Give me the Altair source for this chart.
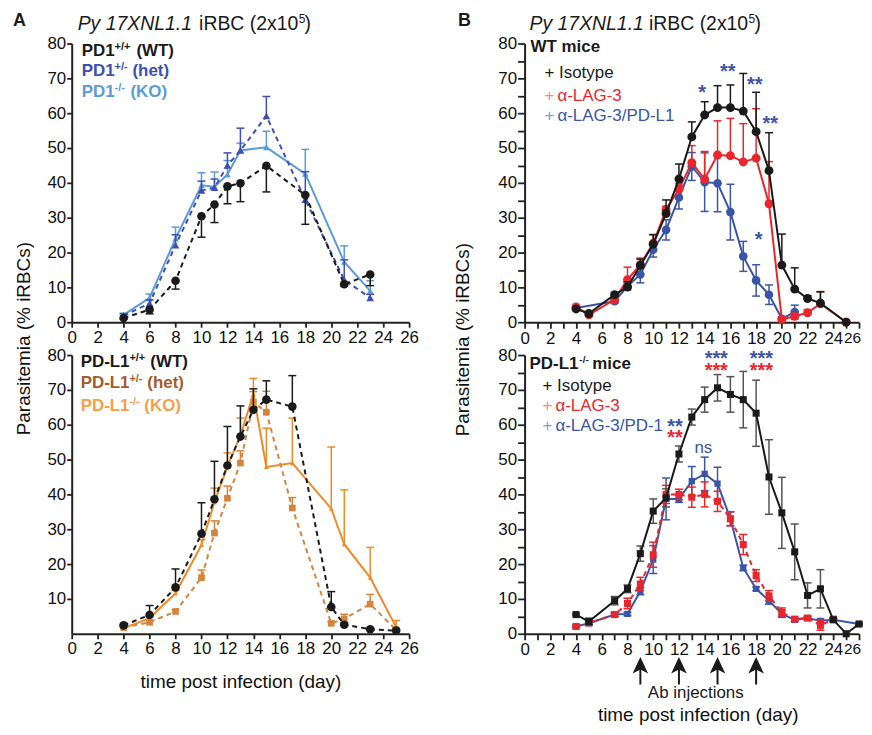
import altair as alt
import pandas as pd

FONT = "Liberation Sans"
W, H = 339, 280
WB = 336
BLACK = "#1a1a1a"
RED = "#e8262c"
BLUE = "#3a55a8"

# ---------------- Panel A top: PD1 ----------------
a1_x = [4, 6, 8, 10, 11, 12, 13, 15, 18, 21, 23]
a1_wt = [1.2, 3.6, 11.9, 30.4, 33.8, 39.0, 39.9, 44.9, 36.5, 10.9, 13.7]
a1_wt_err = [0.3, 1.2, 2.4, 6.0, 5.2, 5.0, 5.3, 7.5, 8.4, 0.5, 3.2]
a1_het = [1.9, 5.4, 22.1, 37.8, 38.6, 45.0, 49.3, 59.2, 35.2, 12.2, 7.0]
a1_het_err = [0.5, 1.0, 3.0, 2.7, 2.5, 3.6, 6.4, 5.6, 8.0, 5.7, 1.0]
a1_ko = [2.1, 7.0, 24.0, 39.3, 38.9, 42.4, 49.3, 50.2, 42.6, 17.3, 9.0]
a1_ko_err = [0.5, 1.1, 3.3, 3.6, 4.2, 4.0, 2.1, 4.6, 7.0, 4.6, 2.9]

# ---------------- Panel A bottom: PD-L1 ----------------
a2_x = [4, 6, 8, 10, 11, 12, 13, 14, 15, 17, 20, 21, 23, 25]
a2_wt = [2.4, 5.4, 13.3, 28.7, 38.6, 48.3, 56.6, 64.3, 67.2, 65.2, 7.7, 2.6, 1.3, 0.9]
a2_wt_err = [0.3, 2.7, 5.3, 8.9, 10.9, 11.2, 8.8, 6.0, 5.4, 8.9, 4.4, 0.5, 0.3, 0.3]
a2_het = [1.8, 3.3, 6.4, 16.1, 28.9, 38.9, 49.0, 66.5, 63.6, 36.1, 3.0, 4.3, 8.5, 1.1]
a2_het_err = [0.3, 0.5, 0.5, 2.2, 3.5, 3.5, 3.5, 3.0, 6.0, 3.0, 0.5, 1.3, 2.8, 0.5]
a2_ko = [1.6, 4.5, 11.6, 25.5, 37.8, 48.0, 56.9, 68.8, 47.9, 49.0, 35.9, 25.7, 16.1, 1.9]
a2_ko_err = [0.3, 0.5, 0.8, 1.5, 4.0, 3.9, 5.0, 4.5, 11.1, 12.9, 17.7, 15.6, 8.7, 1.9]

# ---------------- Panel B top: WT mice ----------------
b1_x = [4, 5, 7, 8, 9, 10, 11, 12, 13, 14, 15, 16, 17, 18, 19, 20, 21, 22, 23, 25]
b1_iso = [3.8, 2.5, 7.9, 10.1, 16.3, 22.4, 31.2, 41.1, 53.2, 59.5, 61.6, 61.6, 60.6, 54.7, 43.5, 16.4, 9.5, 6.8, 5.5, 0.0]
b1_iso_err = [0.3, 0.3, 0.6, 1.5, 1.8, 2.7, 3.9, 4.3, 4.3, 3.8, 6.3, 6.5, 10.8, 11.3, 10.9, 8.9, 6.1, 0.8, 3.2, 0.0]
b1_lag = [4.4, 2.1, 6.5, 12.2, 16.5, 22.7, 32.3, 38.2, 45.8, 41.1, 48.0, 47.8, 46.0, 47.1, 34.0, 0.8, 1.7, 2.7, 5.3, 0.0]
b1_lag_err = [0.3, 0.3, 0.5, 3.6, 1.9, 2.5, 1.0, 1.5, 4.9, 7.9, 9.8, 10.7, 11.0, 14.2, 12.1, 0.3, 0.5, 0.9, 3.5, 0.0]
b1_dual_x = [4, 7, 8, 9, 10, 11, 12, 13, 14, 15, 16, 17, 18, 19, 20, 21]
b1_dual = [4.1, 6.0, 10.3, 13.7, 20.8, 26.5, 35.8, 44.7, 40.2, 39.9, 31.6, 18.9, 12.0, 7.9, 1.0, 2.9]
b1_dual_err = [0.3, 0.5, 1.0, 2.4, 2.1, 2.9, 3.3, 4.0, 8.4, 8.2, 8.0, 4.3, 4.5, 2.8, 0.5, 2.0]
b1_star_x = [13.8, 15.8, 17.9, 19.1, 18.2]
b1_star_y = [66.1, 72.0, 68.4, 57.1, 23.9]
b1_star_t = ["*", "**", "**", "**", "*"]

# ---------------- Panel B bottom: PD-L1-/- mice ----------------
b2_iso_x = [4, 5, 7, 8, 9, 10, 11, 12, 13, 14, 15, 16, 17, 18, 19, 20, 21, 22, 23, 24, 25, 26]
b2_iso = [5.5, 3.5, 9.5, 12.9, 23.0, 35.2, 39.0, 51.6, 62.2, 67.2, 70.6, 68.7, 67.2, 63.3, 45.0, 34.7, 23.5, 11.0, 12.9, 4.0, 0.0, 2.8]
b2_iso_err = [0.3, 1.0, 1.2, 1.1, 2.2, 3.5, 2.6, 2.3, 2.3, 3.6, 3.8, 5.1, 8.1, 9.5, 10.7, 10.2, 8.0, 3.6, 5.5, 0.5, 0.0, 0.3]
b2_lag_x = [4, 5, 7, 8, 9, 10, 11, 12, 13, 14, 15, 16, 17, 18, 19, 20, 21, 22, 23, 24]
b2_lag = [2.1, 3.1, 5.5, 8.7, 14.3, 22.7, 40.0, 40.0, 39.2, 40.0, 38.0, 33.0, 25.6, 16.7, 10.9, 6.1, 4.2, 4.5, 2.4, 4.2]
b2_lag_err = [0.3, 0.5, 0.5, 1.5, 1.9, 3.6, 2.6, 1.5, 2.9, 3.6, 2.9, 2.0, 2.9, 1.7, 1.5, 1.3, 0.5, 0.5, 1.4, 0.3]
b2_dual_x = [4, 5, 7, 8, 9, 10, 11, 12, 13, 14, 15, 16, 17, 18, 19, 20, 21, 22, 23, 24, 26]
b2_dual = [2.1, 3.0, 5.5, 5.7, 12.2, 21.3, 38.7, 38.7, 43.8, 45.9, 43.1, 33.0, 18.9, 12.9, 9.5, 5.7, 4.0, 4.5, 3.7, 4.0, 2.8]
b2_dual_err = [0.3, 0.5, 0.5, 0.5, 1.0, 4.0, 6.0, 1.0, 4.2, 4.8, 4.7, 2.0, 0.8, 0.5, 1.0, 1.0, 0.5, 0.5, 0.5, 0.3, 0.3]
b2_star_x = [14.9, 14.9, 18.4, 18.4, 11.7, 11.7]
b2_star_y = [79.4, 76.1, 79.4, 76.1, 59.9, 56.7]
b2_star_t = ["***", "***", "***", "***", "**", "**"]
b2_star_c = [BLUE, RED, BLUE, RED, BLUE, RED]
injections = [9, 12, 15, 18]

XSCALE = alt.Scale(domain=[0, 26], nice=False, zero=False)
YSCALE = alt.Scale(domain=[0, 80], nice=False)


def series(xs, ys, errs, color, shape, msize, dash, direction, xax, yax, err_color=None):
    ec = err_color or color
    df = pd.DataFrame({"x": xs, "y": ys, "e": errs})
    if direction == "up":
        df["lo"], df["hi"] = df["y"], df["y"] + df["e"]
        caps = pd.DataFrame({"x": df["x"], "c": df["hi"]})
    elif direction == "down":
        df["lo"], df["hi"] = df["y"] - df["e"], df["y"]
        caps = pd.DataFrame({"x": df["x"], "c": df["lo"]})
    else:
        df["lo"], df["hi"] = df["y"] - df["e"], df["y"] + df["e"]
        caps = pd.concat([pd.DataFrame({"x": df["x"], "c": df["lo"]}),
                          pd.DataFrame({"x": df["x"], "c": df["hi"]})])
    X = alt.X("x:Q", scale=XSCALE, axis=xax)
    bars = alt.Chart(df).mark_rule(color=ec, strokeWidth=1.5).encode(
        x=X, y=alt.Y("lo:Q", scale=YSCALE, axis=yax), y2="hi:Q")
    capm = alt.Chart(caps).mark_rule(color=ec, strokeWidth=1.5, xOffset=-4, x2Offset=4).encode(
        x=X, x2="x:Q", y=alt.Y("c:Q", scale=YSCALE, axis=yax))
    lkw = dict(color=color, strokeWidth=2)
    if dash:
        lkw["strokeDash"] = [5, 4]
    line = alt.Chart(df).mark_line(**lkw).encode(x=X, y=alt.Y("y:Q", scale=YSCALE, axis=yax))
    pts = alt.Chart(df).mark_point(filled=True, shape=shape, size=msize, color=color, opacity=1).encode(
        x=X, y=alt.Y("y:Q", scale=YSCALE, axis=yax))
    return [bars, capm, line, pts]


def txt(t, x, y, size=17, color=BLACK, weight="normal", style="normal", align="left"):
    return alt.Chart(pd.DataFrame({"t": [t]})).mark_text(
        font=FONT, fontSize=size, fontWeight=weight, fontStyle=style, color=color,
        align=align, baseline="alphabetic").encode(
        x=alt.value(x), y=alt.value(y), text="t:N")


def title_row(letter, lx, p_x, i_x, s_x, c_x):
    return [
        txt(letter, lx, -18, size=18, weight="bold"),
        txt("Py 17XNL1.1", p_x, -14, size=19.5, style="italic"),
        txt("iRBC (2x10", i_x, -14, size=19.5),
        txt("5", s_x, -21, size=12),
        txt(")", c_x, -14, size=19.5),
    ]


AX = dict(grid=False, labelFlush=False, labelOverlap=False, domainWidth=2, tickWidth=1.8,
          labelFontSize=17, titleFontSize=19)
YT = "Parasitemia (% iRBCs)"
LAST_SIZE = {"condition": {"test": "datum.value == 26", "value": 15.5}, "value": 17}
LAST_OFF = {"condition": {"test": "datum.value == 26", "value": -7}, "value": 0}

# axes
a_x_top = alt.Axis(values=list(range(0, 27, 2)), title=None, tickSize=5, labelPadding=2, **AX)
a_x_bot = alt.Axis(values=list(range(0, 27, 2)), title="time post infection (day)", tickSize=5,
                   labelPadding=2, titleY=54, titleBaseline="alphabetic", **AX)
a_y_top = alt.Axis(values=list(range(0, 81, 10)), title=YT, tickSize=5, labelPadding=1,
                   titleX=-38, titleY=296, titleAngle=270, titleBaseline="bottom", titleAlign="center", **AX)
a_y_bot = alt.Axis(values=list(range(10, 81, 10)), title=None, tickSize=5, labelPadding=1, **AX)

BXE = "datum.value % 2 == 0 ? datum.label : ''"
BYE = "datum.value % 10 == 0 ? datum.label : ''"
BAX = dict(AX)
BAX["labelFontSize"] = LAST_SIZE
b_x_top = alt.Axis(values=list(range(0, 27)), labelExpr=BXE, title=None, tickSize=6, labelPadding=2,
                   labelOffset=LAST_OFF, **BAX)
b_x_bot = alt.Axis(values=list(range(0, 27)), labelExpr=BXE, title="time post infection (day)", tickSize=6,
                   labelPadding=2, titleY=87, titleX=174, titleBaseline="alphabetic",
                   labelOffset=LAST_OFF, **BAX)
b_y_top = alt.Axis(values=list(range(0, 81, 5)), labelExpr=BYE, title=YT, tickSize=7, labelPadding=1,
                   titleX=-52, titleY=297, titleAngle=270, titleBaseline="bottom", titleAlign="center", **AX)
b_y_bot = alt.Axis(values=list(range(0, 81, 5)), labelExpr=BYE, title=None, tickSize=7, labelPadding=1, **AX)

# ---------- Panel A top ----------
HET1 = "#3d4fb5"
KO1 = "#5b9bd8"
layers = []
layers += series(a1_x, a1_ko, a1_ko_err, KO1, "triangle-up", 45, False, "up", a_x_top, a_y_top)
layers += series(a1_x, a1_het, a1_het_err, HET1, "triangle-up", 60, True, "up", a_x_top, a_y_top)
layers += series(a1_x, a1_wt, a1_wt_err, BLACK, "circle", 75, True, "down", a_x_top, a_y_top)
layers += title_row("A", -59, 6, 128, 228, 234)
for (col, sup, tail, tx, yy) in [(BLACK, "+/+", "(WT)", 65, 13), (HET1, "+/-", "(het)", 61, 33),
                                 (KO1, "-/-", "(KO)", 59, 54)]:
    layers += [txt("PD1", 10, yy, weight="bold", color=col),
               txt(sup, 43, yy - 6, size=11, weight="bold", color=col),
               txt(tail, tx, yy, weight="bold", color=col)]
a_top = alt.layer(*layers).properties(width=W, height=H)

# ---------- Panel A bottom ----------
HET2 = "#d4843c"
HET2T = "#a55a2a"
KO2 = "#f08a28"
KO2T = "#f5a04a"
layers = []
layers += series(a2_x, a2_het, a2_het_err, HET2, "square", 45, True, "up", a_x_bot, a_y_bot)
layers += series(a2_x, a2_ko, a2_ko_err, KO2, "triangle-up", 25, False, "up", a_x_bot, a_y_bot)
layers += series(a2_x, a2_wt, a2_wt_err, BLACK, "circle", 75, True, "up", a_x_bot, a_y_bot)
for (col, sup, tail, tx, yy) in [(BLACK, "+/+", "(WT)", 79, 12), (HET2T, "+/-", "(het)", 76, 33),
                                 (KO2T, "-/-", "(KO)", 73, 56)]:
    layers += [txt("PD-L1", 9, yy, weight="bold", color=col),
               txt(sup, 58, yy - 6, size=11, weight="bold", color=col),
               txt(tail, tx, yy, weight="bold", color=col)]
a_bot = alt.layer(*layers).properties(width=W, height=H)

# ---------- Panel B top ----------
XB1 = alt.X("x:Q", scale=XSCALE, axis=b_x_top)
layers = []
layers += series(b1_dual_x, b1_dual, b1_dual_err, BLUE, "circle", 75, False, "both", b_x_top, b_y_top)
layers += series(b1_x, b1_lag, b1_lag_err, RED, "circle", 80, False, "up", b_x_top, b_y_top)
layers += series(b1_x, b1_iso, b1_iso_err, BLACK, "circle", 80, False, "up", b_x_top, b_y_top)
stars1 = pd.DataFrame({"x": b1_star_x, "y": b1_star_y, "t": b1_star_t})
layers.append(alt.Chart(stars1).mark_text(font=FONT, fontSize=20, fontWeight="bold", color=BLUE,
                                          align="center", baseline="alphabetic", dy=7).encode(
    x=XB1, y=alt.Y("y:Q", scale=YSCALE, axis=b_y_top), text="t:N"))
layers += title_row("B", -67, 5, 125, 225, 231)
layers += [txt("WT mice", 6, 9, weight="bold"),
           txt("+ Isotype", 20, 35),
           txt("+", 20, 58, color="#f08a8a"), txt("α-LAG-3", 33, 58, color=RED),
           txt("+", 20, 78, color="#8a9ad0"), txt("α-LAG-3/PD-L1", 33, 78, color=BLUE)]
b_top = alt.layer(*layers).properties(width=WB, height=H)

# ---------- Panel B bottom ----------
XB2 = alt.X("x:Q", scale=XSCALE, axis=b_x_bot)
layers = []
layers += series(b2_dual_x, b2_dual, b2_dual_err, BLUE, "square", 40, False, "both", b_x_bot, b_y_bot)
layers += series(b2_lag_x, b2_lag, b2_lag_err, RED, "square", 50, True, "both", b_x_bot, b_y_bot)
layers += series(b2_iso_x, b2_iso, b2_iso_err, BLACK, "square", 50, False, "both", b_x_bot, b_y_bot,
                 err_color="#555555")
stars2 = pd.DataFrame({"x": b2_star_x, "y": b2_star_y, "t": b2_star_t, "c": b2_star_c})
layers.append(alt.Chart(stars2).mark_text(font=FONT, fontSize=20, fontWeight="bold",
                                          align="center", baseline="alphabetic", dy=8).encode(
    x=XB2, y=alt.Y("y:Q", scale=YSCALE, axis=b_y_bot), text="t:N",
    color=alt.Color("c:N", scale=None)))
ns = pd.DataFrame({"x": [13.9], "y": [53.2], "t": ["ns"]})
layers.append(alt.Chart(ns).mark_text(font=FONT, fontSize=17, color=BLUE, align="center",
                                      baseline="alphabetic", dy=5).encode(
    x=XB2, y=alt.Y("y:Q", scale=YSCALE, axis=b_y_bot), text="t:N"))
inj = pd.DataFrame({"x": injections})
layers.append(alt.Chart(inj).mark_rule(color=BLACK, strokeWidth=2).encode(
    x=XB2, y=alt.value(H + 31), y2=alt.value(H + 51)))
layers.append(alt.Chart(inj).mark_point(shape="M 0 -1 L 0.8 0.7 L 0 0.3 L -0.8 0.7 Z", filled=True,
                                        size=380, color=BLACK, opacity=1).encode(
    x=XB2, y=alt.value(H + 33)))
layers += [txt("Ab injections", 172, H + 65, align="center"),
           txt("PD-L1", 5, 14, weight="bold"), txt("-/-", 55, 8, size=10, weight="bold"),
           txt("mice", 68, 14, weight="bold"),
           txt("+ Isotype", 18, 36),
           txt("+", 18, 56, color="#f08a8a"), txt("α-LAG-3", 31, 56, color=RED),
           txt("+", 18, 76, color="#8a9ad0"), txt("α-LAG-3/PD-1", 31, 76, color=BLUE)]
b_bot = alt.layer(*layers).properties(width=WB, height=H)

chart = alt.concat(a_top, b_top, a_bot, b_bot, columns=2,
                   spacing={"row": 33, "column": 116}, bounds="flush").properties(
    padding={"left": 5, "top": 2, "right": 0, "bottom": 0}
).configure_view(stroke=None).configure_axis(
    labelFont=FONT, titleFont=FONT, labelColor="#111111", titleColor="#111111",
    domainColor="#222222", tickColor="#222222", titleFontWeight="normal")

chart.save("out.html", embed_options={"renderer": "svg", "actions": False})
